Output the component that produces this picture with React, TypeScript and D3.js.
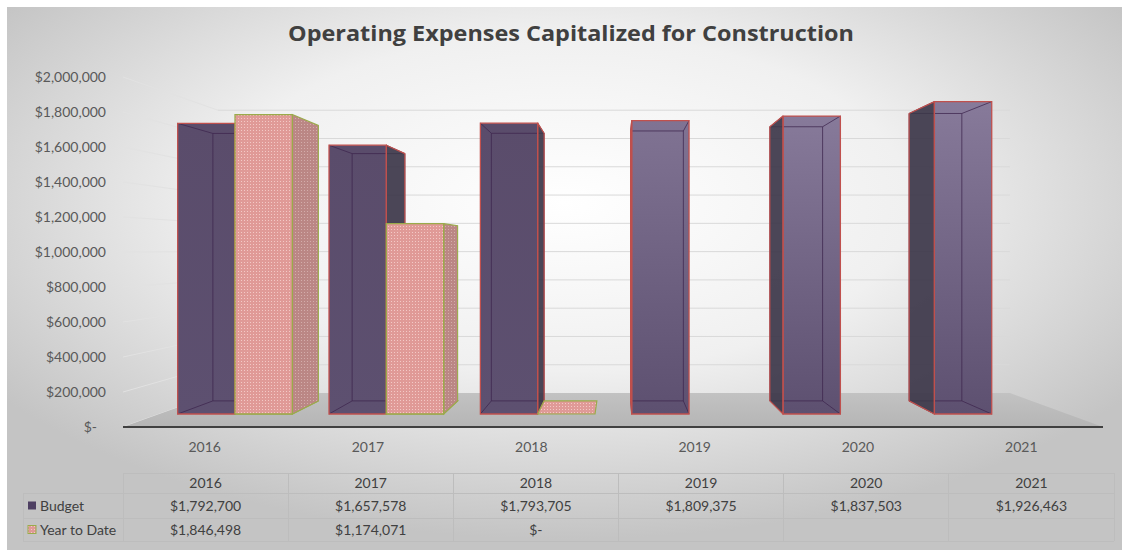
import React from "react";
import * as d3 from "d3";

// ---------- data ----------
const categories = ["2016", "2017", "2018", "2019", "2020", "2021"];
const seriesNames = ["Budget", "Year to Date"];
const budget = [1792700, 1657578, 1793705, 1809375, 1837503, 1926463];
const yearToDate: (number | null)[] = [1846498, 1174071, 0, null, null, null];
const yTicks = [0, 200000, 400000, 600000, 800000, 1000000, 1200000, 1400000, 1600000, 1800000, 2000000];
const title = "Operating Expenses Capitalized for Construction";

// ---------- layout ----------
const W = 1122;
const H = 550;
const FONT = "Lato, 'Open Sans', sans-serif";
const TITLE_FONT = "'Open Sans', Lato, sans-serif";
const V = { x: 618, y: 250 }; // vanishing point
const S_FRONT = 0.9266; // bar front plane depth scale
const S_BACK = 0.8525; // bar back plane depth scale
const S_WALL = 0.808; // back wall depth scale

const x0 = d3.scaleBand<string>().domain(categories).range([123, 1103]);
const x1 = d3.scaleBand<string>().domain(seriesNames).range([0, x0.bandwidth()]).paddingOuter(0.32);
const y = d3.scaleLinear().domain([0, 2000000]).range([427, 77]);

const tableX = d3.scaleBand<string>().domain(categories).range([123, 1114]);
const tableRows = [473, 493, 518, 541];
const tableLeft = 23;

type Pt = [number, number];
const proj = (px: number, py: number, s: number): Pt => [V.x + s * (px - V.x), V.y + s * (py - V.y)];
const pts = (a: Pt[]) => a.map((p) => `${p[0].toFixed(2)},${p[1].toFixed(2)}`).join(" ");
const money = (v: number) => (v === 0 ? "$-" : d3.format("$,")(v));

const RED = "#c0504d";
const GREEN = "#9aab4a";
const INNER = "rgba(62,38,78,0.75)";

type Bar = { cat: string; i: number; series: string; value: number };
const bars: Bar[] = [];
categories.forEach((c, i) => {
  bars.push({ cat: c, i, series: "Budget", value: budget[i] });
  const v = yearToDate[i];
  if (v !== null) bars.push({ cat: c, i, series: "Year to Date", value: v });
});

function geom(b: Bar) {
  const xa = (x0(b.cat) as number) + (x1(b.series) as number);
  const xb = xa + x1.bandwidth();
  const yT = y(b.value);
  const yB = y(0);
  const F = { lt: proj(xa, yT, S_FRONT), rt: proj(xb, yT, S_FRONT), rb: proj(xb, yB, S_FRONT), lb: proj(xa, yB, S_FRONT) };
  const B = { lt: proj(xa, yT, S_BACK), rt: proj(xb, yT, S_BACK), rb: proj(xb, yB, S_BACK), lb: proj(xa, yB, S_BACK) };
  const center = (xa + xb) / 2;
  return { F, B, center, leftOfV: center < V.x };
}

const ordered = [...bars].sort((a, b) => Math.abs(geom(b).center - V.x) - Math.abs(geom(a).center - V.x));

const topShade = d3.scaleLinear().domain([520, 690]).range([0, 1]).clamp(true);
const topColor = d3.interpolateRgb("#5a4c6b", "#877a9a");

function BudgetBar({ b }: { b: Bar }) {
  const { F, B, leftOfV, center } = geom(b);
  const side = leftOfV ? [F.rt, B.rt, B.rb, F.rb] : [F.lt, B.lt, B.lb, F.lb];
  const front = [F.lt, F.rt, F.rb, F.lb];
  const inner: [Pt, Pt][] = [
    [B.lt, B.rt], [B.rt, B.rb], [B.rb, B.lb], [B.lb, B.lt],
    [F.lt, B.lt], [F.rt, B.rt], [F.rb, B.rb], [F.lb, B.lb],
  ];
  const gid = `gb${b.i}`;
  return (
    <g>
      <defs>
        <linearGradient id={gid} x1="0" y1="0" x2="0" y2="1">
          <stop offset="0" stopColor={topColor(topShade(center))} />
          <stop offset="1" stopColor="#5d5070" />
        </linearGradient>
      </defs>
      <polygon points={pts(front)} fill={`url(#${gid})`} />
      {inner.map(([p, q], k) => (
        <line key={k} x1={p[0]} y1={p[1]} x2={q[0]} y2={q[1]} stroke={INNER} strokeWidth={1} />
      ))}
      <polygon points={pts(side)} fill="#3c3649" fillOpacity={0.92} stroke={RED} strokeWidth={1.2} strokeLinejoin="round" />
      <polygon points={pts(front)} fill="none" stroke={RED} strokeWidth={1.3} />
    </g>
  );
}

function YtdBar({ b }: { b: Bar }) {
  const { F, B, leftOfV } = geom(b);
  const bottom = [F.lb, F.rb, B.rb, B.lb];
  const side = leftOfV ? [F.rt, B.rt, B.rb, F.rb] : [F.lt, B.lt, B.lb, F.lb];
  const front = [F.lt, F.rt, F.rb, F.lb];
  const tall = b.value > 0;
  return (
    <g>
      <polygon points={pts(bottom)} fill="url(#dots)" stroke={GREEN} strokeWidth={1.2} />
      {tall && <polygon points={pts(side)} fill="url(#dotsDark)" stroke={GREEN} strokeWidth={1.1} />}
      {tall && <polygon points={pts(front)} fill="url(#dots)" stroke={GREEN} strokeWidth={1.3} />}
    </g>
  );
}

export default function App() {
  const floorFrontL: Pt = [x0.range()[0], y(0)];
  const floorFrontR: Pt = [x0.range()[1], y(0)];
  const floorBackL = proj(floorFrontL[0], floorFrontL[1], S_WALL);
  const floorBackR = proj(floorFrontR[0], floorFrontR[1], S_WALL);

  return (
    <svg width={W} height={H} style={{ position: "absolute", left: 0, top: 0, display: "block" }} fontFamily={FONT}>
      <defs>
        <radialGradient id="bg" cx="0.5" cy="0.36" r="0.62" gradientUnits="objectBoundingBox">
          <stop offset="0" stopColor="#ffffff" />
          <stop offset="0.5" stopColor="#f0f0f0" />
          <stop offset="1" stopColor="#c4c4c4" />
        </radialGradient>
        <linearGradient id="floor" x1="0" y1="0" x2="0" y2="1">
          <stop offset="0" stopColor="#c2c2c2" />
          <stop offset="1" stopColor="#b5b5b5" />
        </linearGradient>
        <pattern id="dots" width="3" height="3" patternUnits="userSpaceOnUse">
          <rect width="3" height="3" fill="#e09a97" />
          <rect x="1" y="1" width="1" height="1" fill="#f3c9c6" />
        </pattern>
        <pattern id="dotsDark" width="3" height="3" patternUnits="userSpaceOnUse">
          <rect width="3" height="3" fill="#bb8785" />
          <rect x="1" y="1" width="1" height="1" fill="#d3adab" />
        </pattern>
      </defs>

      <rect x={0} y={0} width={W} height={H} fill="#ffffff" />
      <rect x={7} y={7} width={W - 7} height={H - 7} fill="url(#bg)" />

      <text x={571} y={41} textAnchor="middle" fontSize={21} fontWeight={700} fill="#404040"
        fontFamily={TITLE_FONT} textLength={566} lengthAdjust="spacingAndGlyphs">
        {title}
      </text>

      {/* gridlines: side wall + back wall */}
      {yTicks.map((t) => {
        const a: Pt = [floorFrontL[0], y(t)];
        const b = proj(a[0], a[1], S_WALL);
        const c = proj(floorFrontR[0], y(t), S_WALL);
        return (
          <g key={t}>
            <line x1={a[0]} y1={a[1]} x2={b[0]} y2={b[1]} stroke="#e2e2e2" strokeWidth={1} />
            {t > 0 && <line x1={b[0]} y1={b[1]} x2={c[0]} y2={c[1]} stroke="#d9d9d9" strokeWidth={1} />}
          </g>
        );
      })}

      {/* floor */}
      <polygon points={pts([floorFrontL, floorBackL, floorBackR, floorFrontR])} fill="url(#floor)" />
      <line x1={floorFrontL[0]} y1={floorFrontL[1]} x2={floorFrontR[0]} y2={floorFrontR[1]} stroke="#404040" strokeWidth={2} />

      {/* y-axis labels */}
      {yTicks.map((t) => (
        <text key={t} x={t === 0 ? 97 : 106} y={y(t) + 5} textAnchor="end" fontSize={14} fill="#595959">
          {money(t)}
        </text>
      ))}

      {/* bars */}
      {ordered.map((b) =>
        b.series === "Budget" ? <BudgetBar key={b.cat + b.series} b={b} /> : <YtdBar key={b.cat + b.series} b={b} />
      )}

      {/* category labels */}
      {categories.map((c) => (
        <text key={c} x={(x0(c) as number) + x0.bandwidth() / 2} y={452} textAnchor="middle" fontSize={14} fill="#595959">
          {c}
        </text>
      ))}

      {/* data table */}
      <g stroke="#bdbdbd" strokeWidth={1} shapeRendering="crispEdges">
        <line x1={tableX.range()[0]} y1={tableRows[0]} x2={tableX.range()[1]} y2={tableRows[0]} />
        {tableRows.slice(1).map((r) => (
          <line key={r} x1={tableLeft} y1={r} x2={tableX.range()[1]} y2={r} />
        ))}
        <line x1={tableLeft} y1={tableRows[1]} x2={tableLeft} y2={tableRows[3]} />
        {categories.map((c) => (
          <line key={c} x1={tableX(c) as number} y1={tableRows[0]} x2={tableX(c) as number} y2={tableRows[3]} />
        ))}
        <line x1={tableX.range()[1]} y1={tableRows[0]} x2={tableX.range()[1]} y2={tableRows[3]} />
      </g>
      {categories.map((c, i) => {
        const cx = (tableX(c) as number) + tableX.bandwidth() / 2;
        const v = yearToDate[i];
        return (
          <g key={c} fontSize={14} fill="#404040" textAnchor="middle">
            <text x={cx} y={(tableRows[0] + tableRows[1]) / 2 + 5}>{c}</text>
            <text x={cx} y={(tableRows[1] + tableRows[2]) / 2 + 5}>{money(budget[i])}</text>
            {v !== null && <text x={cx} y={(tableRows[2] + tableRows[3]) / 2 + 5}>{money(v)}</text>}
          </g>
        );
      })}
      <rect x={28} y={(tableRows[1] + tableRows[2]) / 2 - 4} width={8} height={8} fill="#4e3f62" />
      <rect x={28} y={(tableRows[2] + tableRows[3]) / 2 - 4} width={8} height={8} fill="url(#dots)" stroke={GREEN} strokeWidth={1} />
      <text x={40} y={(tableRows[1] + tableRows[2]) / 2 + 5} fontSize={14} fill="#404040">{seriesNames[0]}</text>
      <text x={40} y={(tableRows[2] + tableRows[3]) / 2 + 5} fontSize={14} fill="#404040">{seriesNames[1]}</text>
    </svg>
  );
}
